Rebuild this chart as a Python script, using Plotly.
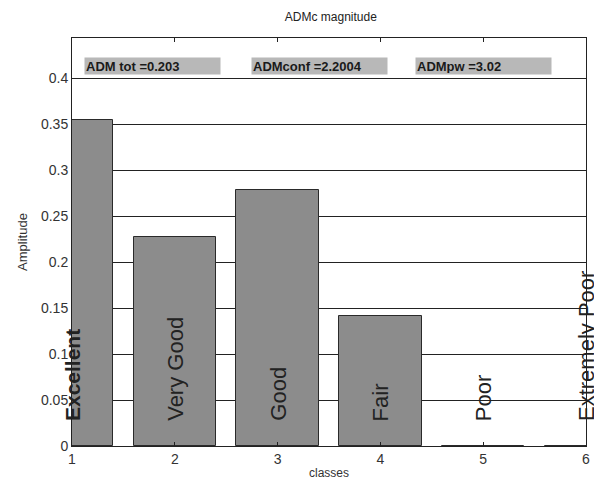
import plotly.graph_objects as go

classes = [1, 2, 3, 4, 5, 6]
amplitude = [0.355, 0.227, 0.279, 0.141, 0.0, 0.0]
class_names = ["Excellent", "Very Good", "Good", "Fair", "Poor", "Extremely Poor"]
name_bold = [True, False, False, False, False, False]
stats_text = ["ADM tot =0.203", "ADMconf =2.2004", "ADMpw =3.02"]
stats_x = [1.116, 2.74, 4.34]
stats_y = 0.4
label_y = 0.025
y_ticks = [0, 0.05, 0.1, 0.15, 0.2, 0.25, 0.3, 0.35, 0.4]
y_ticktext = ["0", "0.05", "0.1", "0.15", "0.2", "0.25", "0.3", "0.35", "0.4"]
x_ticks = [1, 2, 3, 4, 5, 6]

fig = go.Figure()
fig.add_trace(go.Bar(
    x=classes, y=amplitude, width=0.8,
    marker=dict(color="#8c8c8c", line=dict(color="#2a2a2a", width=1)),
    showlegend=False, hoverinfo="skip",
))

annotations = []
for xv, name, b in zip(classes, class_names, name_bold):
    annotations.append(dict(
        x=xv, y=label_y, xref="x", yref="y",
        text=f"<b>{name}</b>" if b else name,
        textangle=-90, showarrow=False,
        xanchor="center", yanchor="bottom",
        font=dict(family="Arial, Liberation Sans, sans-serif", size=21 if b else 22, color="#222222"),
    ))
for xv, t in zip(stats_x, stats_text):
    annotations.append(dict(
        x=xv, y=stats_y, xref="x", yref="y",
        text=f"<b>{t}</b>", showarrow=False,
        xanchor="left", yanchor="bottom", yshift=3,
        width=133, height=14, align="left",
        bgcolor="#b8b8b8", borderpad=1,
        font=dict(family="Arial, Liberation Sans, sans-serif", size=13, color="#1a1a1a"),
    ))

fig.update_layout(
    width=594, height=484,
    margin=dict(l=72, r=4, t=38, b=38),
    paper_bgcolor="white", plot_bgcolor="white",
    title=dict(text="ADMc magnitude", x=0.557, xanchor="center", y=0.965, yanchor="middle",
               font=dict(family="Arial, Liberation Sans, sans-serif", size=12, color="#222222")),
    font=dict(family="Arial, Liberation Sans, sans-serif", color="#333333"),
    annotations=annotations,
    bargap=0,
)
fig.update_xaxes(
    range=[1, 6], tickvals=x_ticks, ticks="inside", ticklen=4, tickcolor="#222222",
    showline=True, linecolor="#222222", linewidth=1, mirror="ticks",
    showgrid=False, zeroline=False, ticklabeloverflow="allow",
    tickfont=dict(size=14, color="#333333"),
    title=dict(text="classes", font=dict(size=12, color="#333333"), standoff=2),
)
fig.update_yaxes(
    range=[0, 0.444], tickvals=y_ticks, ticktext=y_ticktext, ticks="",
    showline=True, linecolor="#222222", linewidth=1, mirror=True,
    showgrid=True, gridcolor="#222222", gridwidth=1, zeroline=False,
    tickfont=dict(size=14, color="#333333"),
    title=dict(text="Amplitude", font=dict(size=13, color="#333333"), standoff=10),
)

fig.write_html(
    "out.html", config={"displayModeBar": False},
    post_script=(
        "document.body.style.margin='0px';"
        "document.body.style.overflow='hidden';"
        "document.documentElement.style.overflow='hidden';"
    ),
)
